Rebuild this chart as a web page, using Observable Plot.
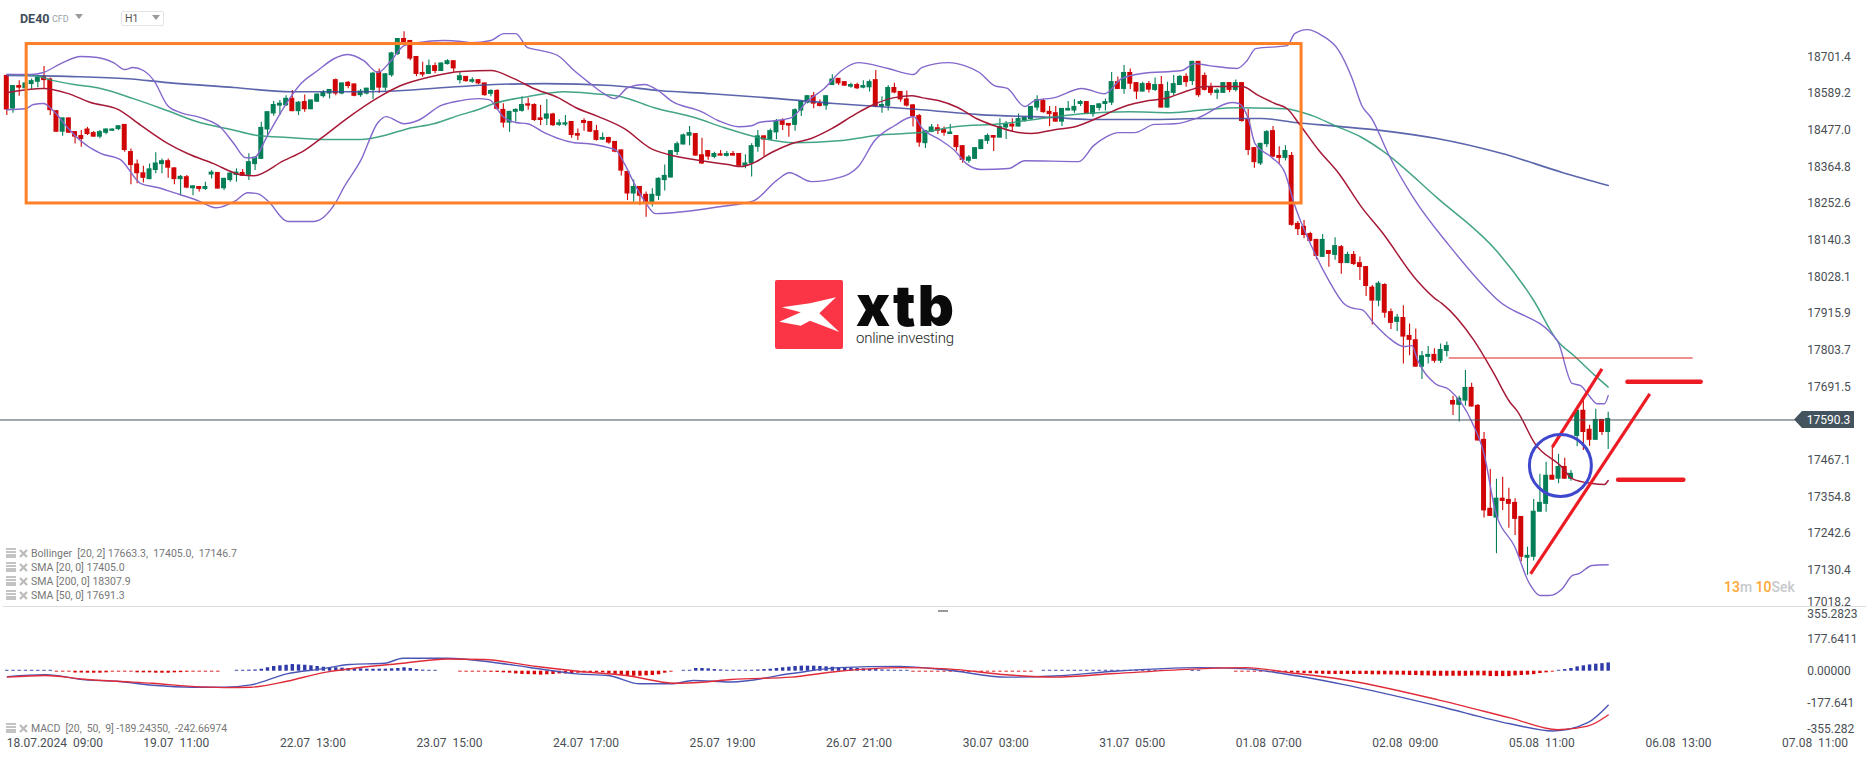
<!DOCTYPE html>
<html><head><meta charset="utf-8">
<style>
html,body{margin:0;padding:0;background:#fff;width:1866px;height:759px;overflow:hidden;font-family:Roboto,sans-serif}
#page{position:relative;width:1866px;height:759px}
#main,#macd{position:absolute;left:0}
#main{top:0}#macd{top:607px}
svg{display:block}
.a{position:absolute;white-space:pre}
.lg{position:absolute;left:31px;font-size:10.5px;color:#777;line-height:12px;white-space:pre}
.ic{position:absolute;left:6px}
</style>
<script src="https://cdn.jsdelivr.net/npm/d3@7"></script>
<script src="https://cdn.jsdelivr.net/npm/@observablehq/plot@0.6"></script>
</head><body><div id="page">
<div id="main"></div><div id="macd"></div>
</div>
<script>
const opens=[18645,18542,18614,18604,18617,18624,18641,18634,18537,18471,
18515,18473,18461,18481,18470,18456,18468,18474,18479,18495,
18412,18374,18347,18326,18354,18372,18384,18362,18326,18335,
18298,18305,18296,18340,18348,18298,18323,18339,18348,18339,
18372,18388,18478,18527,18551,18552,18575,18534,18565,18540,
18563,18580,18588,18632,18588,18624,18619,18583,18588,18599,
18656,18606,18644,18709,18758,18752,18703,18654,18648,18675,
18657,18678,18690,18629,18642,18624,18632,18622,18587,18599,
18541,18499,18532,18535,18558,18556,18515,18511,18527,18492,
18493,18504,18467,18507,18504,18476,18447,18455,18443,18417,
18351,18282,18305,18281,18254,18275,18323,18331,18409,18432,
18459,18467,18402,18415,18394,18405,18397,18406,18406,18367,
18374,18425,18460,18447,18469,18507,18498,18492,18536,18560,
18583,18559,18551,18614,18636,18626,18609,18617,18606,18607,
18632,18548,18550,18608,18596,18573,18555,18522,18436,18470,
18485,18479,18464,18461,18430,18382,18388,18418,18443,18461,
18453,18484,18496,18487,18505,18510,18545,18568,18535,18531,
18502,18536,18536,18556,18565,18525,18544,18556,18560,18626,
18602,18654,18623,18594,18620,18599,18617,18545,18590,18614,
18642,18626,18688,18645,18608,18590,18590,18623,18599,18623,
18510,18424,18374,18433,18476,18400,18391,18400,18192,18183,
18161,18143,18088,18109,18094,18121,18069,18097,18072,18060,
17997,17954,18005,17922,17889,17904,17849,17836,17752,17782,
17791,17770,17800,17650,17635,17648,17690,17635,17531,17320,
17290,17351,17347,17338,17295,17167,17170,17308,17332,17421,
17409,17448,17409,17540,17620,17562,17528,17592,17552];
const highs=[18648,18614,18629,18624,18634,18644,18672,18637,18537,18515,
18515,18473,18476,18486,18473,18476,18481,18481,18491,18495,
18420,18386,18367,18374,18408,18389,18389,18362,18339,18339,
18307,18305,18318,18354,18348,18330,18352,18359,18357,18405,
18395,18502,18534,18565,18568,18583,18599,18565,18585,18570,
18588,18599,18602,18634,18622,18626,18619,18602,18606,18655,
18665,18650,18716,18758,18779,18752,18703,18685,18692,18683,
18683,18693,18690,18655,18642,18638,18632,18622,18601,18601,
18558,18535,18543,18580,18575,18558,18553,18571,18529,18509,
18522,18504,18481,18512,18504,18492,18469,18456,18443,18417,
18351,18325,18305,18288,18298,18332,18371,18415,18441,18466,
18489,18467,18453,18415,18410,18415,18412,18412,18406,18402,
18436,18476,18460,18481,18510,18512,18498,18543,18566,18583,
18593,18570,18583,18647,18636,18626,18621,18621,18629,18631,
18660,18580,18614,18621,18596,18597,18555,18525,18476,18495,
18495,18487,18495,18461,18430,18400,18424,18448,18466,18461,
18512,18504,18512,18527,18517,18550,18583,18573,18550,18550,
18544,18565,18571,18568,18565,18553,18558,18573,18654,18640,
18675,18665,18623,18624,18626,18637,18642,18624,18645,18645,
18650,18688,18688,18652,18621,18604,18623,18623,18631,18623,
18541,18424,18437,18476,18489,18427,18430,18409,18198,18201,
18165,18143,18158,18109,18148,18124,18104,18106,18089,18060,
18002,18014,18007,17930,17913,17940,17884,17869,17800,17815,
17808,17823,17829,17663,17663,17742,17703,17638,17552,17439,
17409,17415,17381,17349,17295,17201,17347,17424,17461,17510,
17485,17473,17436,17625,17650,17574,17623,17592,17614];
const lows=[18522,18529,18581,18575,18601,18607,18604,18522,18471,18459,
18468,18435,18425,18461,18456,18451,18463,18474,18476,18410,
18310,18313,18316,18326,18344,18344,18330,18310,18277,18298,
18277,18288,18293,18328,18297,18293,18318,18318,18336,18323,
18354,18388,18456,18520,18522,18550,18534,18522,18532,18540,
18563,18576,18573,18583,18586,18604,18580,18578,18585,18571,
18590,18597,18639,18706,18744,18690,18641,18639,18648,18650,
18657,18677,18655,18619,18624,18621,18617,18581,18580,18538,
18484,18471,18502,18532,18538,18504,18492,18492,18489,18489,
18489,18453,18446,18474,18471,18444,18446,18434,18408,18337,
18262,18257,18247,18211,18242,18262,18291,18331,18400,18432,
18430,18398,18372,18385,18390,18398,18395,18398,18364,18359,
18334,18410,18397,18447,18448,18476,18456,18474,18519,18558,
18543,18548,18538,18614,18614,18612,18606,18602,18604,18594,
18546,18529,18536,18589,18563,18548,18487,18425,18421,18470,
18464,18459,18464,18413,18376,18376,18388,18418,18434,18412,
18453,18449,18471,18487,18502,18507,18536,18529,18489,18502,
18489,18536,18529,18550,18525,18517,18536,18536,18553,18602,
18587,18602,18571,18594,18591,18596,18545,18545,18583,18614,
18609,18614,18578,18597,18583,18571,18590,18592,18594,18502,
18400,18361,18369,18424,18393,18374,18383,18183,18155,18145,
18135,18081,18088,18058,18079,18036,18069,18063,18017,17968,
17881,17937,17902,17867,17861,17762,17787,17752,17714,17762,
17764,17763,17783,17604,17584,17633,17630,17526,17290,17295,
17181,17313,17259,17237,17156,17115,17159,17308,17308,17406,
17395,17409,17403,17508,17497,17510,17528,17543,17500];
const closes=[18539,18614,18606,18622,18629,18639,18629,18537,18471,18515,
18468,18456,18449,18464,18456,18473,18481,18481,18491,18415,
18369,18344,18330,18359,18377,18384,18361,18326,18336,18300,
18307,18296,18305,18349,18297,18330,18346,18349,18336,18381,
18395,18486,18534,18556,18560,18575,18534,18563,18540,18570,
18588,18593,18602,18588,18622,18611,18581,18597,18606,18652,
18606,18650,18714,18758,18744,18695,18648,18646,18675,18657,
18683,18690,18665,18644,18626,18632,18619,18583,18599,18541,
18499,18535,18541,18556,18551,18507,18507,18527,18491,18500,
18500,18461,18459,18498,18471,18446,18455,18438,18410,18352,
18282,18305,18275,18250,18281,18330,18339,18415,18436,18463,
18470,18398,18374,18395,18406,18398,18406,18398,18367,18377,
18430,18460,18447,18476,18507,18492,18490,18540,18566,18583,
18557,18550,18583,18634,18619,18612,18617,18604,18614,18626,
18548,18556,18608,18591,18570,18551,18519,18438,18476,18487,
18474,18468,18472,18424,18385,18395,18424,18448,18461,18453,
18489,18496,18487,18513,18516,18550,18571,18531,18525,18502,
18544,18544,18550,18565,18527,18553,18558,18565,18626,18602,
18654,18618,18594,18620,18600,18617,18545,18596,18620,18642,
18623,18688,18583,18599,18590,18600,18623,18599,18623,18504,
18415,18378,18437,18473,18395,18391,18415,18186,18173,18155,
18137,18091,18143,18097,18124,18069,18097,18066,18057,17999,
17954,18009,17917,17886,17905,17844,17834,17752,17787,17791,
17770,17806,17818,17636,17657,17690,17630,17526,17312,17295,
17351,17341,17332,17286,17170,17176,17311,17338,17421,17406,
17448,17409,17427,17620,17552,17528,17592,17552,17595];

const upperIdx=[0,3.8,5.9,8.7,11.9,14.6,17.2,19,20.3,22,23.7,25.9,28,31.2,34.5,36.6,38.5,39.8,42,44.6,47.4,50.1,52.7,55,57.5,59.8,61.9,64,66.2,70.4,73.2,74.8,78,80.1,82,83.9,86.1,89,91.4,93.8,96.2,97.9,100.1,102.7,105,107,111.9,114.6,117.9,120,121.2,124,126.4,129.1,131.7,134.5,137.2,142,146.1,147.4,151.7,154.3,156.7,159.1,161.2,164,165.6,168.8,173.2,176.9,179.6,182.9,189.3,191.4,193.7,198.2,199.8,201.2,206.3,207.5,209.5,211.9,214.6,216.7,218.3,219.9,222.7,226.6,232.4,240.1,249.8,252.2,253.5,254.9,256.2,257.4,258];
const upperVal=[18648,18648,18654,18681,18703,18700,18684,18663,18669,18660,18629,18553,18531,18516,18485,18436,18393,18393,18461,18546,18620,18660,18696,18709,18690,18654,18690,18736,18745,18752,18749,18745,18752,18773,18773,18730,18721,18703,18660,18623,18589,18574,18608,18617,18598,18568,18534,18507,18488,18491,18501,18507,18516,18568,18605,18660,18684,18666,18648,18669,18684,18675,18654,18614,18605,18550,18568,18577,18605,18589,18635,18651,18660,18681,18675,18666,18690,18727,18736,18773,18785,18767,18721,18638,18553,18513,18400,18271,18124,17959,17833,17702,17696,17665,17640,17640,17665];
const lowerIdx=[0,3,4.3,5.9,7.5,9.8,11.9,15.1,18.3,21.6,24.3,26.9,30.8,33.7,36.9,38.8,40.4,42,45.3,49.5,53,54.3,57,59.8,61.1,64,66.2,70,73.2,75.9,77.7,80.1,82,83.9,86.6,89.3,91.4,93.8,96.9,98.2,99.5,101.1,102.7,104.5,114.8,120.4,124,126.1,129.6,134,137.2,139.8,143,146.1,147.4,150.6,152.7,154.6,157,161.4,164,172.7,175.1,177.2,179.1,181.7,184.9,188.2,192,197.4,198.5,200.1,201.1,203.8,205.9,207.4,210.3,213,215.4,217.2,218.3,220.3,222.4,225.1,226.4,227.2,230.1,232.4,236.1,238,239.8,243,245.3,247,248.5,250.6,252.2,253.3,255.4,258];
const lowerVal=[18540,18543,18556,18559,18537,18485,18445,18406,18387,18314,18302,18286,18262,18240,18262,18286,18283,18262,18198,18198,18256,18302,18384,18501,18519,18497,18507,18553,18568,18574,18571,18516,18501,18497,18470,18449,18439,18436,18424,18415,18375,18314,18262,18222,18243,18262,18323,18347,18320,18332,18366,18445,18491,18519,18485,18445,18415,18375,18357,18360,18384,18381,18430,18458,18470,18470,18495,18497,18516,18562,18559,18507,18436,18394,18348,18253,18118,18017,17947,17931,17928,17885,17846,17815,17818,17778,17702,17683,17582,17487,17313,17200,17090,17053,17053,17074,17114,17120,17145,17147];
const sma20Idx=[0.1,5.9,9.8,13.5,17.9,21.6,25.9,29.1,33.3,37.7,39.8,44.6,47.9,50.6,55,59.8,63.5,68.3,73.2,78,81.7,84.9,88.8,91.7,95.3,99.5,103.8,106.6,111.9,116.2,118.3,120.4,123.2,126.4,129.6,132.9,136.6,139.3,143,145.8,147.4,150.1,153.3,156.2,159.1,163,165.1,168.8,172.1,175.9,179.6,184,186.6,190.4,193,199,201.7,204.3,206.3,208.2,211.4,214.6,218.3,221.6,227.2,230.1,231.2,236.4,239.6,242.2,243.3,246.2,250.6,252.2,255.4,257.4,258];
const sma20Val=[18593,18605,18590,18562,18541,18492,18437,18406,18375,18341,18338,18384,18415,18452,18516,18577,18614,18641,18657,18660,18635,18605,18577,18546,18519,18482,18421,18403,18384,18372,18366,18378,18409,18436,18452,18482,18525,18553,18577,18583,18577,18568,18546,18513,18491,18470,18467,18479,18488,18516,18547,18568,18574,18599,18611,18611,18583,18559,18543,18497,18415,18345,18241,18164,18017,17962,17947,17833,17732,17644,17619,17518,17445,17411,17396,17393,17405];
const sma50Idx=[0.1,4.3,7.5,10.8,15.1,20.4,25.9,31.2,35.6,40.4,45.3,51.7,57,61.4,64.6,68.8,73.2,75.9,78.5,83.9,89.8,94.6,99,104.3,110.8,115.6,120.4,126.9,134,141.4,147.4,152.7,160.3,167.9,173.2,180.8,187.7,193,198.5,205.9,210.3,214,218.3,221.6,230.4,240.1,245.9,249.8,252.5,255.9,258];
const sma50Val=[18648,18645,18629,18617,18605,18574,18537,18500,18482,18461,18455,18449,18449,18464,18482,18497,18525,18540,18559,18580,18595,18589,18580,18546,18516,18485,18458,18439,18445,18464,18470,18488,18497,18516,18528,18534,18531,18540,18546,18543,18522,18491,18455,18415,18271,18106,17959,17833,17787,17726,17691];
const sma200Idx=[0.1,9.8,19.5,25.9,36.6,45.8,58.2,73.2,78.5,86.6,97.4,105.4,113.5,124.3,133.3,140.4,147.4,156.6,168.8,174.3,184.9,193,202.2,207.5,214.6,221.6,230.4,240.9,250.6,258];
const sma200Val=[18645,18642,18635,18623,18608,18595,18595,18611,18617,18620,18614,18598,18589,18574,18559,18550,18540,18525,18516,18510,18510,18513,18513,18501,18489,18476,18452,18406,18348,18308];

const macdIdx=[0.1,6.2,12.7,17.7,23.5,30,35,39.3,45.1,50.8,55.2,60.9,63.8,71,78.2,84,91.9,96.9,102,107,110.6,116.7,126.4,134.1,143.8,151.5,161.1,168.8,178.5,192,199.7,205.5,215.2,230.6,242.2,249.1,254.7,258];
const macdVal=[-30,-19,-48,-56,-78,-89,-89,-76,-15,13,37,44,72,72,50,22,-15,-24,-70,-70,-52,-60,-13,20,27,7,-33,-27,0,20,13,-13,-73,-193,-292,-332,-286,-189];
const signalIdx=[0.1,6.2,12,17.7,23.5,29.2,35,39.3,45.1,50.8,56.6,63.8,71,76.8,85.4,91.9,99.8,107.7,112,116.7,126.4,134.1,143.8,151.5,161.1,168.8,178.5,192,199.7,206.4,215.2,230.6,242.2,249.9,254.7,258];
const signalVal=[-33,-24,-43,-56,-67,-83,-91,-89,-56,-9,19,44,68,65,26,0,-24,-67,-61,-46,-33,0,20,13,-20,-33,-13,13,20,-7,-46,-159,-259,-325,-305,-243];
const histVal=[5,5,5,5,5,5,5,5,-5,-5,-5,-10,-10,-11,-11,-11,-9,-5,-5,-5,-5,-9,-9,-9,-11,-11,-11,-9,-8,-6,-5,-5,-5,-5,-5,0,0,
5,5,6,7,11,19,26,30,33,37,35,33,30,26,22,20,19,17,15,13,13,11,11,11,11,13,15,19,15,9,6,5,5,0,0,0,
-5,-5,-5,-5,-5,-6,-7,-9,-11,-15,-18,-19,-20,-22,-20,-18,-15,-15,-13,-11,-9,-7,-7,-9,-13,-18,-22,-26,-28,-28,-26,-24,-20,-11,-5,0,
5,5,15,15,13,9,7,5,5,5,5,5,7,9,11,15,19,22,26,28,28,28,26,24,22,20,19,17,15,13,11,9,7,6,5,5,5,
-5,-5,-5,-5,-5,-5,-5,-6,-6,-6,-6,-6,-5,-5,-5,-5,-5,-5,-5,-5,0,
5,5,5,5,5,5,5,5,5,5,5,5,5,5,5,5,5,5,5,5,0,0,0,0,5,5,0,0,0,0,0,
-5,-5,-5,-5,-5,-5,-5,-6,-7,-9,-11,-13,-14,-15,-17,-18,-18,-18,-18,-18,-18,-18,-20,-20,-20,-21,-22,-22,-24,-24,-26,-26,-28,-28,-28,-28,-28,-28,-26,-26,-26,-30,-30,-30,-30,-26,-24,-22,-19,-13,-9,-5,
5,9,15,24,30,35,39,42,46];

const priceTicks=[18701.4,18589.2,18477.0,18364.8,18252.6,18140.3,18028.1,17915.9,17803.7,17691.5,17467.1,17354.8,17242.6,17130.4];
const lastPriceTick=[17018.2];
const lastPrice=17590.3;
const macdTicks=[177.6411,0,-177.641];
const macdTop=[355.2823], macdBottom=[-355.282];
const timeIdx=[0,22,44,66,88,110,132,154,176,198,220,242,264,286];
const timeLabels=["18.07.2024  09:00","19.07  11:00","22.07  13:00","23.07  15:00","24.07  17:00","25.07  19:00","26.07  21:00","30.07  03:00","31.07  05:00","01.08  07:00","02.08  09:00","05.08  11:00","06.08  13:00","07.08  11:00"];

const boxX=[3.2,208.6], boxY=[18253,18741];
const gapLineX=[232.4,271.7], gapLineY=17780;
const channelA=[[257,17747],[249,17507]];
const channelB=[[245.5,17119],[264.7,17670]];
const targetA=[[261.1,17707],[272.9,17707]];
const targetB=[[259.6,17407],[270.1,17407]];
const circleAt=[[250.3,17451]];

const idx=d3.range(opens.length);
const GREEN="#047f58",RED="#d00606";
const XD=[-1.015,289.95];
const up=i=>closes[i]>=opens[i], down=i=>closes[i]<opens[i];
const wick=(t)=>Plot.ruleX(idx.filter(t),{x:i=>i,y1:i=>lows[i],y2:i=>highs[i],stroke:t===up?GREEN:RED,strokeWidth:1.1});
const body=(t)=>Plot.rect(idx.filter(t),{x1:i=>i-0.4,x2:i=>i+0.4,y1:i=>opens[i],y2:i=>closes[i],fill:t===up?GREEN:RED});
const series=(xs,ys,stroke,w=1.5,o=1)=>Plot.line(d3.zip(xs,ys),{x:d=>d[0],y:d=>d[1],stroke,strokeWidth:w,strokeOpacity:o,strokeLinejoin:"round",curve:"monotone-x"});
const seg=(pts,stroke,w,cap="butt")=>Plot.line(pts,{x:d=>d[0],y:d=>d[1],stroke,strokeWidth:w,strokeLinecap:cap});

const main=Plot.plot({
  width:1866,height:607,marginTop:0,marginBottom:0,marginLeft:0,marginRight:60,
  style:{background:"transparent",color:"#4a4f55",fontFamily:"Roboto",fontSize:"12px",overflow:"visible"},
  x:{domain:XD,axis:null},
  y:{domain:[17016.3,18874.3],axis:null},
  marks:[
    wick(down),wick(up),body(down),body(up),
    series(sma200Idx,sma200Val,"#3e4a9e",1.6,.85),
    series(sma50Idx,sma50Val,"#2f9a7a",1.5,.9),
    series(upperIdx,upperVal,"#8468cc",1.4),
    series(lowerIdx,lowerVal,"#8468cc",1.4),
    series(sma20Idx,sma20Val,"#a61a38",1.5),
    Plot.ruleY([lastPrice],{x1:XD[0],x2:288.2,stroke:"#44525c",strokeWidth:1}),
    Plot.ruleY([gapLineY],{x1:gapLineX[0],x2:gapLineX[1],stroke:"#e0201f",strokeWidth:1}),
    Plot.rect([0],{x1:boxX[0],x2:boxX[1],y1:boxY[0],y2:boxY[1],fill:"none",stroke:"#ff7f27",strokeWidth:3}),
    seg(channelA,"#ed1c24",3.2),
    seg(channelB,"#ed1c24",3.2),
    seg(targetA,"#ed1c24",4.5,"round"),
    seg(targetB,"#ed1c24",4.5,"round"),
    Plot.dot(circleAt,{x:d=>d[0],y:d=>d[1],r:31,fill:"none",stroke:"#3f48cc",strokeWidth:3}),
    Plot.axisY(priceTicks,{anchor:"right",tickSize:0,tickPadding:0.7,tickFormat:d=>d.toFixed(1),label:null}),
    Plot.axisY(lastPriceTick,{anchor:"right",tickSize:0,tickPadding:0.7,tickFormat:d=>d.toFixed(1),label:null,dy:-5})
  ]
});
document.getElementById("main").append(main);

const histBlue=idx.filter(i=>histVal[i]>0), histRed=idx.filter(i=>histVal[i]<0);
const macd=Plot.plot({
  width:1866,height:152,marginTop:0,marginBottom:24,marginLeft:0,marginRight:60,
  style:{background:"transparent",color:"#4a4f55",fontFamily:"Roboto",fontSize:"12px",overflow:"visible"},
  x:{domain:XD,axis:null},
  y:{domain:[-356.9,353.6],axis:null},
  marks:[
    Plot.ruleX(histBlue,{x:i=>i,y1:0,y2:i=>histVal[i],stroke:"#2e3aa8",strokeWidth:3.4}),
    Plot.ruleX(histRed,{x:i=>i,y1:0,y2:i=>histVal[i],stroke:"#d80808",strokeWidth:3.4}),
    series(macdIdx,macdVal,"#4a55b5",1.4),
    series(signalIdx,signalVal,"#e02c38",1.4),
    Plot.axisY(macdTicks,{anchor:"right",tickSize:0,tickPadding:0.7,tickFormat:d=>d===0?"0.00000":String(d),label:null}),
    Plot.axisY(macdTop,{anchor:"right",tickSize:0,tickPadding:0.7,tickFormat:d=>String(d),label:null,dy:7}),
    Plot.axisY(macdBottom,{anchor:"right",tickSize:0,tickPadding:0.7,tickFormat:d=>String(d),label:null,dy:-6}),
    Plot.axisX(timeIdx,{anchor:"bottom",tickSize:0,tickPadding:3,textAnchor:"start",label:null,
      tickFormat:i=>timeLabels[timeIdx.indexOf(i)].replace(/ /g,"\u00A0")})
  ]
});
document.getElementById("macd").append(macd);

/* page furniture */
const page=document.getElementById("page");
const add=(html)=>page.insertAdjacentHTML("beforeend",html);
add(`<div class="a" style="left:3px;top:606px;width:1863px;height:1px;background:#dcdcdc"></div>`);
add(`<div class="a" style="left:938px;top:610px;width:10px;height:1.5px;background:#999"></div>`);
add(`<div class="a" style="left:20px;top:12px;font-size:12.5px;font-weight:700;color:#3f4d5a;line-height:14px">DE40</div>`);
add(`<div class="a" style="left:52px;top:14px;font-size:9px;color:#9aa3aa;line-height:10px">CFD</div>`);
add(`<svg class="a" style="left:75px;top:14px" width="9" height="6"><path d="M0,0H8L4,5Z" fill="#9a9a9a"/></svg>`);
add(`<div class="a" style="left:121px;top:11px;width:41px;height:13px;border:1px solid #e4e4e4;border-radius:2px"></div>`);
add(`<div class="a" style="left:125px;top:13px;font-size:10.5px;color:#555;line-height:12px">H1</div>`);
add(`<svg class="a" style="left:152px;top:15px" width="9" height="6"><path d="M0,0H8L4,5Z" fill="#9a9a9a"/></svg>`);

const legendTexts=["Bollinger  [20, 2] 17663.3,  17405.0,  17146.7","SMA [20, 0] 17405.0","SMA [200, 0] 18307.9","SMA [50, 0] 17691.3"];
const legendTops=[548,562,576,590];
const icon=(top)=>`<svg class="ic" style="top:${top}px" width="22" height="11"><path d="M0,1H10M0,4H10M0,7H10M0,9H10" stroke="#b0b0b0" stroke-width="1.3"/><path d="M14,2L21,9M21,2L14,9" stroke="#bbb" stroke-width="2.2"/></svg>`;
legendTexts.forEach((t,k)=>{
  const top=legendTops[k];
  add(icon(top));
  add(`<div class="lg" style="top:${top}px">${t}</div>`);
});
add(icon(723));
add(`<div class="lg" style="top:723px;letter-spacing:-0.1px">MACD  [20,  50,  9] -189.24350,  -242.66974</div>`);

/* price tag */
add(`<svg class="a" style="left:1794px;top:411px" width="60" height="17"><path d="M0,8.5L8,0H60V17H8Z" fill="#44545e"/></svg>`);
add(`<div class="a" style="left:1806.7px;top:412.5px;font-size:12px;line-height:14px;color:#fff">${lastPrice.toFixed(1)}</div>`);

/* countdown */
add(`<div class="a" style="left:1724px;top:579px;font-size:14px;line-height:16px;font-weight:500;color:#c6c9cc"><span style="color:#ffa733">13</span>m <span style="color:#ffa733">10</span>Sek</div>`);

/* logo */
add(`<svg class="a" style="left:775px;top:250px" width="190" height="110" viewBox="0 -30 190 110">
<rect x="0" y="0" width="68" height="69" rx="2" fill="#fb3545"/>
<path d="M6.7,27.3L35,23.3L61,17.3L44.3,33.3L64.3,52L35,40.7L25.7,45.7L4.3,41.7L25.7,32.3Z" fill="#fff"/>
<text x="81" y="46" font-family="Inter" font-weight="900" font-size="56" fill="#0a0a0a" textLength="98" lengthAdjust="spacing">xtb</text>
<text x="81" y="63" font-family="Roboto" font-weight="300" font-size="15" fill="#222" textLength="98" lengthAdjust="spacing">online investing</text>
</svg>`);
</script>
</body></html>
